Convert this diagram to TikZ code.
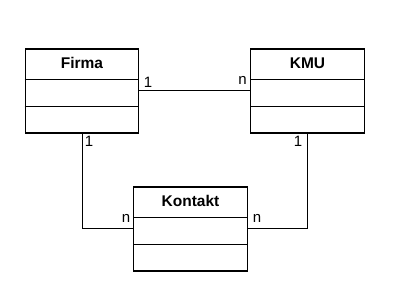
\documentclass[tikz,border=0pt]{standalone}
\usepackage{fontspec}
\setmainfont{Liberation Sans}
\begin{document}
\begin{tikzpicture}[x=1pt,y=-1pt,
  cls/.style={draw,line width=1.3pt,minimum width=113.5pt,minimum height=84pt,inner sep=0pt},
  title/.style={font=\bfseries\fontsize{15.5}{18}\selectfont,inner sep=0pt},
  mult/.style={font=\fontsize{15}{18}\selectfont,inner sep=0pt},
  conn/.style={line width=1pt}]
\useasboundingbox (0,0) rectangle (394,304);
\node[cls] (firma) at (82,91) {};
\node[cls] (kmu) at (307.5,91) {};
\node[cls] (kontakt) at (190.5,229) {};
\foreach \n/\t in {firma/Firma,kmu/KMU,kontakt/Kontakt}{
  \node[title] (\n-t) at ([yshift=-15pt]\n.north) {\t};
  \draw[line width=1.3pt] ([yshift=-31pt]\n.north west) -- ([yshift=-31pt]\n.north east);
  \draw[line width=1.3pt] ([yshift=-58pt]\n.north west) -- ([yshift=-58pt]\n.north east);
}
\draw[conn] (firma.east) -- (kmu.west);
\draw[conn] (firma.south) |- (kontakt.west);
\draw[conn] (kontakt.east) -| (kmu.south);
\node[mult] (m1) at (148,82) {1};
\node[mult] (m2) at (242.5,80.5) {n};
\node[mult] (m3) at (89,141) {1};
\node[mult] (m4) at (298,141) {1};
\node[mult] (m5) at (126,218) {n};
\node[mult] (m6) at (257,218) {n};
\end{tikzpicture}
\end{document}
